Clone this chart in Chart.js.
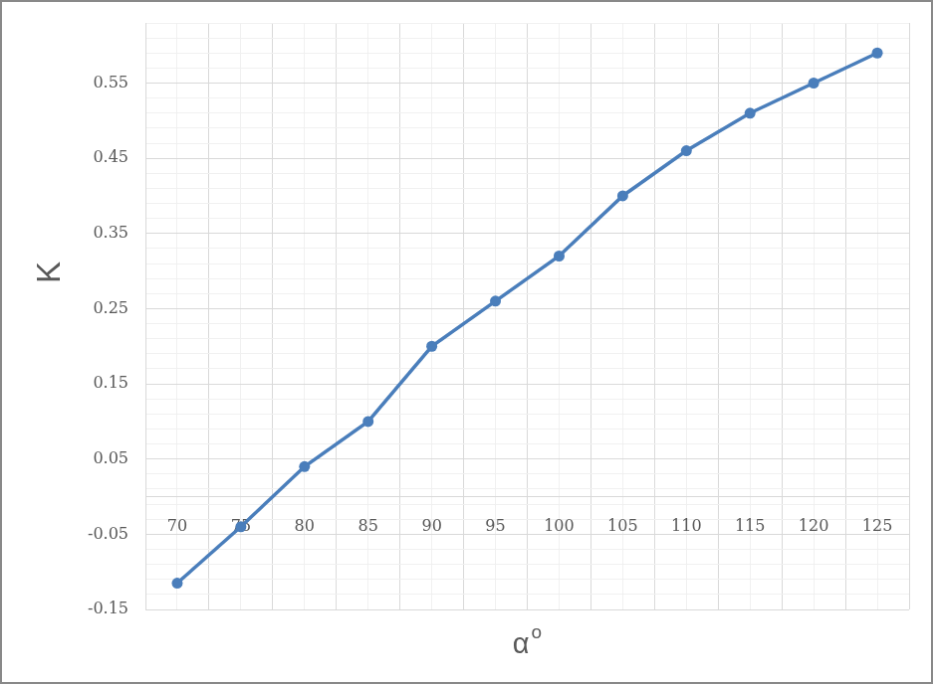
<!DOCTYPE html>
<html>
<head>
<meta charset="utf-8">
<script src="https://cdn.jsdelivr.net/npm/chart.js@4/dist/chart.umd.min.js"></script>
<style>
  html, body { margin: 0; padding: 0; background: #ffffff; }
  #c { display: block; border: 2px solid #898989; background: #ffffff; }
</style>
</head>
<body>
<canvas id="c" width="933" height="684"></canvas>
<script>
// ---- data ----
const categories = [70, 75, 80, 85, 90, 95, 100, 105, 110, 115, 120, 125];
const kValues = [-0.115, -0.04, 0.04, 0.10, 0.20, 0.26, 0.32, 0.40, 0.46, 0.51, 0.55, 0.59];
const xTickLabels = ['70', '75', '80', '85', '90', '95', '100', '105', '110', '115', '120', '125'];
const yTickLabels = ['-0.15', '-0.05', '0.05', '0.15', '0.25', '0.35', '0.45', '0.55'];
const yTitle = 'K';
const xTitleMain = 'α';
const xTitleSup = 'o';

// axis extents (category axis: half a category either side)
const xMin = 67.5, xMax = 127.5, xMinorStep = 2.5;
const yMin = -0.15, yMax = 0.63, yMinorStep = 0.02;

const MAJOR = '#d9d9d9', MINOR = '#f0f0f0', TEXT = '#595959';
const tickFont = { family: '"DejaVu Serif", serif', size: 16 };

function noPad(scale) {
  scale.paddingTop = 0; scale.paddingBottom = 0;
  scale.paddingLeft = 0; scale.paddingRight = 0;
}

const titlePlugin = {
  id: 'axisTitles',
  afterDraw(chart) {
    const { ctx, chartArea } = chart;
    ctx.save();
    ctx.fillStyle = TEXT;
    // y title
    ctx.save();
    ctx.font = '33px "Liberation Sans", sans-serif';
    ctx.translate(chartArea.left - 95, chartArea.top + 251);
    ctx.rotate(-Math.PI / 2);
    ctx.textAlign = 'center';
    ctx.textBaseline = 'middle';
    ctx.fillText(yTitle, 0, 0);
    ctx.restore();
    // x title with superscript
    ctx.textBaseline = 'alphabetic';
    ctx.textAlign = 'left';
    const mainFont = '29px "Liberation Sans", sans-serif';
    const supFont = '19px "Liberation Sans", sans-serif';
    ctx.font = mainFont;
    const wa = ctx.measureText(xTitleMain).width;
    ctx.font = supFont;
    const wo = ctx.measureText(xTitleSup).width;
    const total = wa + 2 + wo;
    const cx = (chartArea.left + chartArea.right) / 2;
    const x0 = cx - total / 2;
    const base = chartArea.bottom + 44;
    ctx.font = mainFont;
    ctx.fillText(xTitleMain, x0, base);
    ctx.font = supFont;
    ctx.fillText(xTitleSup, x0 + wa + 2, base - 15);
    ctx.restore();
  }
};

new Chart(document.getElementById('c'), {
  type: 'line',
  data: {
    datasets: [{
      data: categories.map((c, i) => ({ x: c, y: kValues[i] })),
      borderColor: '#4a7ebb',
      backgroundColor: '#4a7ebb',
      borderWidth: 3.5,
      pointRadius: 5.5,
      pointHoverRadius: 5.5,
      pointBorderWidth: 0,
      pointBackgroundColor: '#4a7ebb',
      tension: 0,
      fill: false
    }]
  },
  options: {
    responsive: false,
    animation: false,
    devicePixelRatio: 1,
    layout: { padding: { left: 0, top: 21, right: 22, bottom: 73 } },
    plugins: { legend: { display: false }, tooltip: { enabled: false }, title: { display: false } },
    scales: {
      x: {
        type: 'linear',
        position: { y: 0 },
        min: xMin,
        max: xMax,
        afterBuildTicks(scale) {
          const t = [];
          const n = Math.round((xMax - xMin) / xMinorStep);
          for (let i = 0; i <= n; i++) t.push({ value: xMin + i * xMinorStep });
          scale.ticks = t;
        },
        afterFit(scale) { scale.height = 0; noPad(scale); },
        ticks: {
          autoSkip: false,
          maxRotation: 0,
          padding: 21,
          color: TEXT,
          font: tickFont,
          callback(value) {
            const idx = categories.indexOf(value);
            return idx >= 0 ? xTickLabels[idx] : '';
          }
        },
        grid: {
          drawTicks: false,
          lineWidth: 1,
          color(ctx) {
            const v = ctx.tick ? ctx.tick.value : 0;
            return categories.includes(v) ? MINOR : MAJOR;
          }
        },
        border: { display: true, color: MAJOR, width: 1 }
      },
      y: {
        type: 'linear',
        min: yMin,
        max: yMax,
        afterBuildTicks(scale) {
          const t = [];
          const n = Math.round((yMax - yMin) / yMinorStep);
          for (let i = 0; i <= n; i++) t.push({ value: Math.round((yMin + i * yMinorStep) * 1000) / 1000 });
          scale.ticks = t;
        },
        afterFit(scale) { scale.width = 144; noPad(scale); },
        ticks: {
          autoSkip: false,
          padding: 17,
          color: TEXT,
          font: tickFont,
          callback(value, index) {
            return index % 5 === 0 ? (yTickLabels[index / 5] || '') : '';
          }
        },
        grid: {
          drawTicks: false,
          lineWidth: 1,
          color(ctx) {
            return ctx.index % 5 === 0 ? MAJOR : MINOR;
          }
        },
        border: { display: true, color: MAJOR, width: 1 }
      }
    }
  },
  plugins: [titlePlugin]
});
</script>
</body>
</html>
